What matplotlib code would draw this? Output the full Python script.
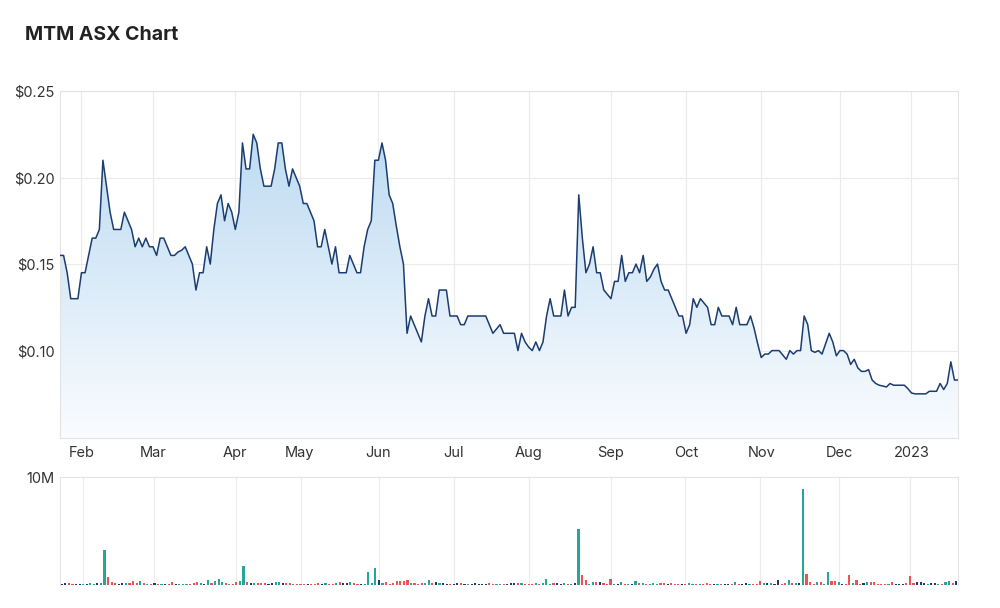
import numpy as np
import pandas as pd
import matplotlib
matplotlib.use("Agg")
import matplotlib.pyplot as plt
from matplotlib.colors import LinearSegmentedColormap

plt.rcParams['font.family'] = ['Inter', 'DejaVu Sans']

# trading days (ASX holidays removed)
holidays = ['2022-01-26', '2022-04-15', '2022-04-18', '2022-04-25', '2022-06-13',
            '2022-09-22', '2022-12-26', '2022-12-27', '2023-01-02']
dates = pd.bdate_range('2022-01-21', '2023-01-20', freq='C', holidays=holidays)

# closing price ($)
price = [
    0.155, 0.155, 0.145, 0.13, 0.13, 0.13, 0.145, 0.145, 0.155, 0.165,
    0.165, 0.17, 0.21, 0.195, 0.18, 0.17, 0.17, 0.17, 0.18, 0.175,
    0.17, 0.16, 0.165, 0.16, 0.165, 0.16, 0.16, 0.155, 0.165, 0.165,
    0.16, 0.155, 0.155, 0.157, 0.158, 0.16, 0.155, 0.15, 0.135, 0.145,
    0.145, 0.16, 0.15, 0.17, 0.185, 0.19, 0.175, 0.185, 0.18, 0.17,
    0.18, 0.22, 0.205, 0.205, 0.225, 0.22, 0.205, 0.195, 0.195, 0.195,
    0.205, 0.22, 0.22, 0.205, 0.195, 0.205, 0.20, 0.195, 0.185, 0.185,
    0.18, 0.175, 0.16, 0.16, 0.17, 0.16, 0.15, 0.16, 0.145, 0.145,
    0.145, 0.155, 0.15, 0.145, 0.145, 0.16, 0.17, 0.175, 0.21, 0.21,
    0.22, 0.21, 0.19, 0.185, 0.172, 0.16, 0.15, 0.11, 0.12, 0.115,
    0.11, 0.105, 0.12, 0.13, 0.12, 0.12, 0.135, 0.135, 0.135, 0.12,
    0.12, 0.12, 0.115, 0.115, 0.12, 0.12, 0.12, 0.12, 0.12, 0.12,
    0.115, 0.11, 0.1125, 0.115, 0.11, 0.11, 0.11, 0.11, 0.10, 0.11,
    0.105, 0.102, 0.10, 0.105, 0.10, 0.105, 0.12, 0.13, 0.12, 0.12,
    0.12, 0.135, 0.12, 0.125, 0.125, 0.19, 0.165, 0.145, 0.15, 0.16,
    0.145, 0.145, 0.135, 0.1325, 0.13, 0.14, 0.14, 0.155, 0.14, 0.145,
    0.145, 0.15, 0.145, 0.155, 0.14, 0.1425, 0.147, 0.15, 0.14, 0.135,
    0.135, 0.13, 0.125, 0.12, 0.12, 0.11, 0.115, 0.13, 0.125, 0.13,
    0.1275, 0.125, 0.115, 0.115, 0.125, 0.12, 0.12, 0.12, 0.115, 0.125,
    0.115, 0.115, 0.115, 0.12, 0.113, 0.104, 0.096, 0.098, 0.098, 0.10,
    0.10, 0.10, 0.0975, 0.095, 0.10, 0.098, 0.10, 0.10, 0.12, 0.115,
    0.10, 0.099, 0.10, 0.098, 0.104, 0.11, 0.105, 0.097, 0.10, 0.10,
    0.098, 0.092, 0.095, 0.09, 0.088, 0.088, 0.089, 0.083, 0.081, 0.08,
    0.0795, 0.079, 0.081, 0.08, 0.08, 0.08, 0.08, 0.078, 0.0755, 0.075,
    0.075, 0.075, 0.075, 0.0765, 0.0765, 0.0765, 0.081, 0.0775, 0.081, 0.0935,
    0.083, 0.083,
]

# volume (millions of shares)
volume = [
    0.1, 0.15, 0.15, 0.1, 0.1, 0.1, 0.1, 0.1, 0.15, 0.1,
    0.2, 0.2, 3.2, 0.7, 0.3, 0.2, 0.1, 0.15, 0.2, 0.2,
    0.4, 0.2, 0.4, 0.2, 0.1, 0.1, 0.15, 0.1, 0.1, 0.1,
    0.1, 0.3, 0.1, 0.1, 0.1, 0.1, 0.1, 0.15, 0.3, 0.15,
    0.1, 0.45, 0.15, 0.4, 0.55, 0.3, 0.15, 0.1, 0.1, 0.3,
    0.4, 1.75, 0.3, 0.2, 0.2, 0.15, 0.15, 0.15, 0.1, 0.15,
    0.3, 0.3, 0.2, 0.2, 0.15, 0.1, 0.1, 0.1, 0.1, 0.1,
    0.1, 0.1, 0.2, 0.1, 0.2, 0.1, 0.1, 0.15, 0.3, 0.15,
    0.15, 0.3, 0.2, 0.1, 0.1, 0.1, 1.25, 0.2, 1.55, 0.5,
    0.2, 0.3, 0.1, 0.15, 0.35, 0.35, 0.35, 0.45, 0.15, 0.2,
    0.1, 0.15, 0.15, 0.5, 0.2, 0.3, 0.2, 0.2, 0.1, 0.1,
    0.1, 0.15, 0.15, 0.1, 0.1, 0.1, 0.15, 0.1, 0.1, 0.1,
    0.15, 0.1, 0.1, 0.1, 0.1, 0.1, 0.2, 0.2, 0.2, 0.15,
    0.1, 0.1, 0.1, 0.15, 0.1, 0.15, 0.6, 0.1, 0.2, 0.15,
    0.1, 0.2, 0.1, 0.1, 0.15, 5.2, 0.9, 0.45, 0.1, 0.3,
    0.3, 0.3, 0.15, 0.1, 0.6, 0.1, 0.1, 0.3, 0.1, 0.1,
    0.1, 0.4, 0.15, 0.15, 0.1, 0.1, 0.2, 0.1, 0.2, 0.2,
    0.1, 0.15, 0.1, 0.1, 0.1, 0.1, 0.15, 0.1, 0.1, 0.1,
    0.1, 0.15, 0.1, 0.1, 0.1, 0.1, 0.1, 0.1, 0.1, 0.3,
    0.1, 0.1, 0.15, 0.1, 0.1, 0.1, 0.4, 0.15, 0.15, 0.2,
    0.1, 0.5, 0.1, 0.15, 0.5, 0.15, 0.15, 0.2, 8.9, 1.0,
    0.3, 0.1, 0.3, 0.3, 0.1, 1.2, 0.4, 0.4, 0.3, 0.1,
    0.1, 0.9, 0.2, 0.5, 0.1, 0.2, 0.3, 0.25, 0.3, 0.1,
    0.1, 0.1, 0.1, 0.3, 0.1, 0.1, 0.1, 0.2, 0.8, 0.2,
    0.3, 0.3, 0.2, 0.1, 0.15, 0.15, 0.1, 0.1, 0.3, 0.4,
    0.2, 0.4,
]

price_ticks = [0.10, 0.15, 0.20, 0.25]
up_col, down_col, flat_col = '#26a69a', '#ef5350', '#1e3a6e'
line_col = '#1b3d70'
grid_col = '#ebebeb'

x = np.arange(len(dates))
p = np.array(price)
v = np.array(volume) * 1e6

# month ticks at first trading day of each month
month_idx = [i for i in range(1, len(dates)) if dates[i].month != dates[i - 1].month]
month_lab = [dates[i].strftime('%Y') if dates[i].month == 1 else dates[i].strftime('%b')
             for i in month_idx]

fig = plt.figure(figsize=(10, 6.08), dpi=100)
ax = fig.add_axes([0.06, 0.2796, 0.898, 0.5707])
axv = fig.add_axes([0.06, 0.0378, 0.898, 0.1776])

ymin, ymax = 0.0495, 0.25

# price area with vertical gradient
poly = ax.fill_between(x, p, ymin, color='none')
cmap = LinearSegmentedColormap.from_list('g', ['#fafcff', '#bddbf2'])
grad = np.linspace(0, 1, 256).reshape(-1, 1)
im = ax.imshow(grad, extent=[x[0], x[-1], ymin, 0.225], origin='lower',
               aspect='auto', cmap=cmap, zorder=1)
im.set_clip_path(poly.get_paths()[0], transform=ax.transData)
ax.plot(x, p, color=line_col, lw=1.1, zorder=3)

ax.set_xlim(x[0], x[-1])
ax.set_ylim(ymin, ymax)
ax.set_yticks(price_ticks)
ax.set_yticklabels(['$%.2f' % t for t in price_ticks])
ax.set_xticks(month_idx)
ax.set_xticklabels(month_lab)
ax.grid(True, color=grid_col, lw=0.8)
ax.set_axisbelow(True)
ax.tick_params(length=0, labelsize=10.5, colors='#333333')
ax.tick_params(axis='x', pad=6)
ax.tick_params(axis='y', pad=4)
for s in ax.spines.values():
    s.set_color('#e3e3e3')

# volume bars coloured by daily move
cols = [flat_col]
for i in range(1, len(p)):
    if p[i] > p[i - 1]:
        cols.append(up_col)
    elif p[i] < p[i - 1]:
        cols.append(down_col)
    else:
        cols.append(flat_col)
axv.bar(x, v, width=0.6, color=cols, zorder=3)
axv.set_xlim(x[0] - 0.5, x[-1] + 0.5)
axv.set_ylim(0, 10e6)
axv.set_yticks([10e6])
axv.set_yticklabels(['10M'])
axv.set_xticks(month_idx)
axv.set_xticklabels([])
axv.grid(True, axis='x', color=grid_col, lw=0.8)
axv.set_axisbelow(True)
axv.tick_params(length=0, labelsize=10.5, colors='#333333', pad=4)
for s in axv.spines.values():
    s.set_color('#e3e3e3')
axv.spines['bottom'].set_visible(False)

fig.text(0.025, 0.942, 'MTM ASX Chart', fontsize=14, fontweight='bold',
         color='#222222', va='center')

fig.savefig('out.png', dpi=100)
